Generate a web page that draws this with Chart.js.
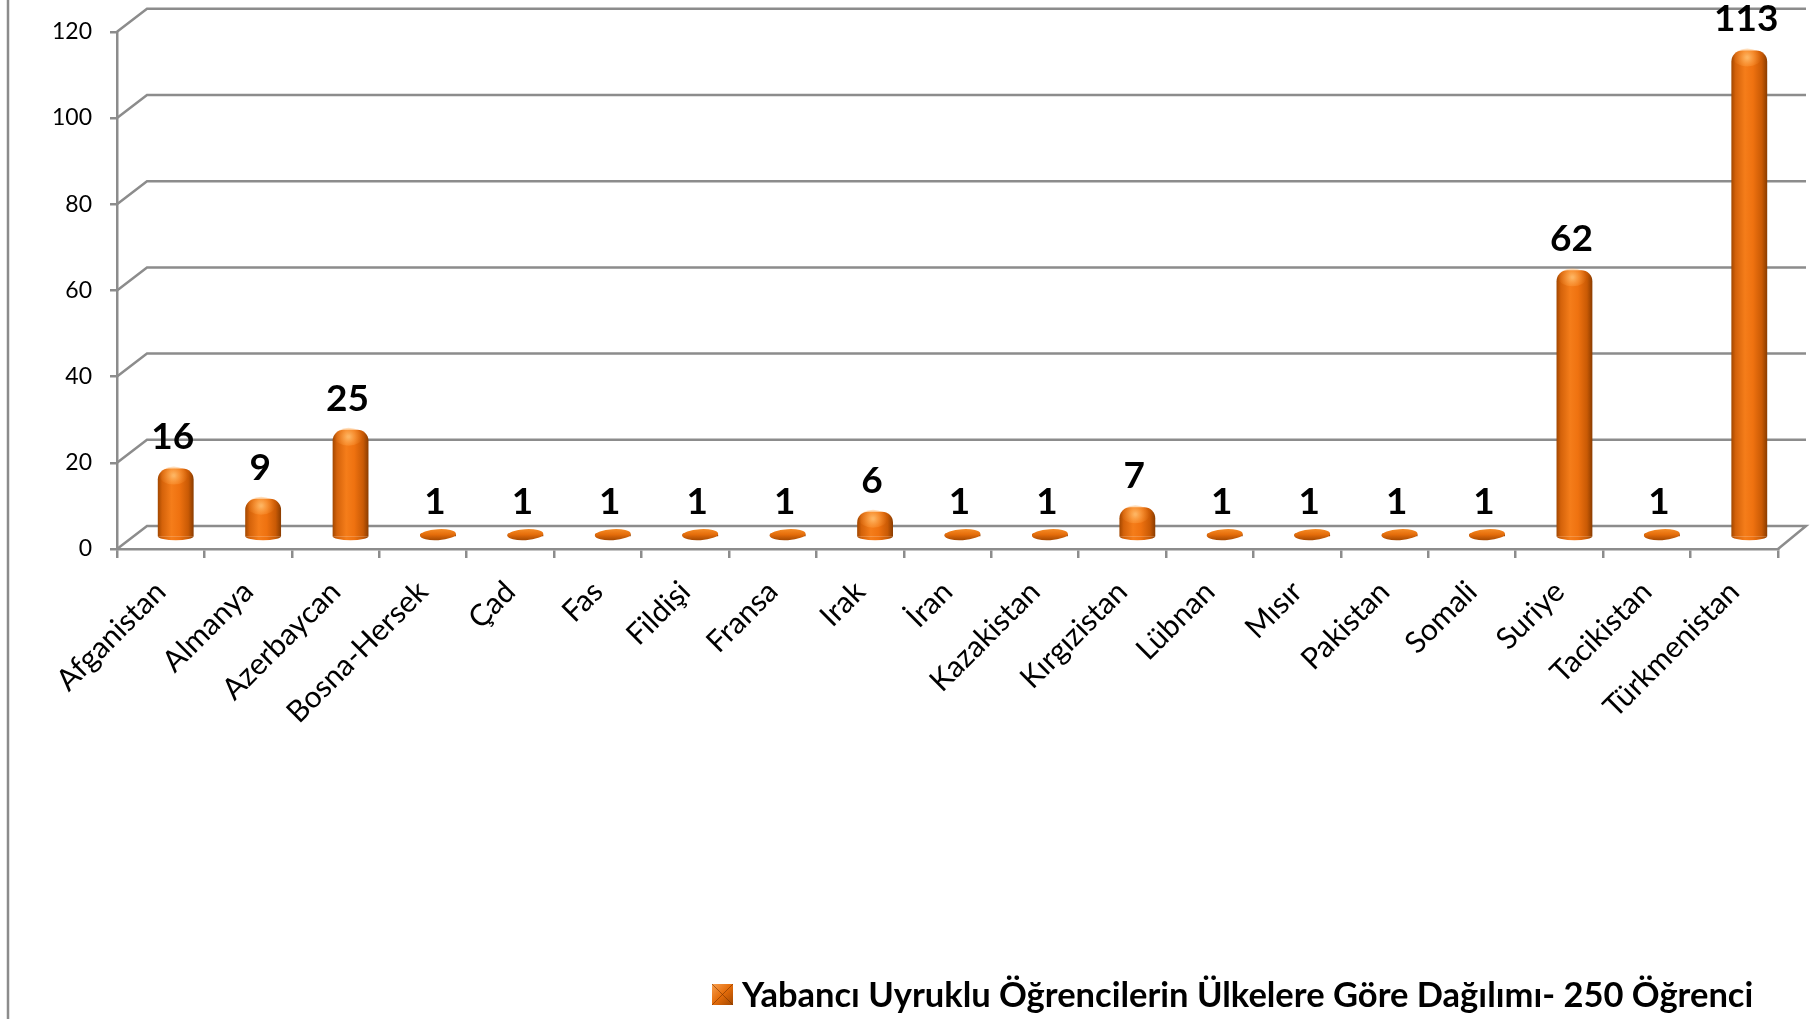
<!DOCTYPE html>
<html lang="tr">
<head>
<meta charset="utf-8">
<script src="https://cdn.jsdelivr.net/npm/chart.js@4.4.1/dist/chart.umd.min.js"></script>
<style>
  html, body { margin: 0; padding: 0; background: #fff; }
  #kutu { width: 1816px; height: 1019px; position: relative; }
</style>
</head>
<body>
<div id="kutu"><canvas id="grafik"></canvas></div>
<script>
// veriler
const ulkeler = ['Afganistan', 'Almanya', 'Azerbaycan', 'Bosna-Hersek', 'Çad', 'Fas', 'Fildişi', 'Fransa', 'Irak', 'İran',
  'Kazakistan', 'Kırgızistan', 'Lübnan', 'Mısır', 'Pakistan', 'Somali', 'Suriye', 'Tacikistan', 'Türkmenistan'];
const ogrenciSayisi = [16, 9, 25, 1, 1, 1, 1, 1, 6, 1, 1, 7, 1, 1, 1, 1, 62, 1, 113];
const yEksenDegerleri = [0, 20, 40, 60, 80, 100, 120];
const seriAdi = 'Yabancı Uyruklu Öğrencilerin Ülkelere Göre Dağılımı- 250 Öğrenci';

// 3B görünüm için derinlik
const DX = 30, DY = 23;
const BAR_ORANI = 0.41;
const GRI = '#8c8c8c';

function silindirRengi(ctx, cx, yw) {
  const g = ctx.createLinearGradient(cx - yw, 0, cx + yw, 0);
  g.addColorStop(0, '#a24700');
  g.addColorStop(0.12, '#d4620a');
  g.addColorStop(0.38, '#f57d1a');
  g.addColorStop(0.6, '#ef7210');
  g.addColorStop(0.85, '#c95a05');
  g.addColorStop(1, '#8a3c00');
  return g;
}

const duvar = {
  id: 'duvar',
  beforeDatasetsDraw(chart) {
    const { ctx, chartArea: a, scales: { y } } = chart;
    ctx.save();
    ctx.strokeStyle = GRI;
    ctx.lineWidth = 2.5;
    yEksenDegerleri.forEach(v => {
      const py = y.getPixelForValue(v);
      ctx.beginPath();
      ctx.moveTo(a.left, py);
      ctx.lineTo(a.left + DX, py - DY);
      ctx.lineTo(a.right + DX - 2, py - DY);
      if (v === 0) ctx.lineTo(a.right, py);
      ctx.stroke();
    });
    // grafik çerçevesinin sol kenarı
    ctx.beginPath();
    ctx.moveTo(8, 0);
    ctx.lineTo(8, chart.height);
    ctx.stroke();
    ctx.restore();
    // çubukları derinliğin ortasına kaydır
    ctx.save();
    ctx.translate(DX / 2, -DY / 2);
  },
  afterDatasetsDraw(chart) {
    const { ctx } = chart;
    const meta = chart.getDatasetMeta(0);
    meta.data.forEach((el, i) => {
      const { x, y, base, width } = el.getProps(['x', 'y', 'base', 'width'], true);
      const rx = width / 2;
      const h = base - y;
      if (h < 12) {
        // ince disk
        ctx.beginPath();
        ctx.ellipse(x, y + h / 2, rx, 5.5, -0.06, 0, Math.PI * 2);
        const g = ctx.createLinearGradient(0, y - 5, 0, base + 5);
        g.addColorStop(0, '#f8902a');
        g.addColorStop(0.5, '#e46c0a');
        g.addColorStop(1, '#9a4300');
        ctx.fillStyle = g;
        ctx.fill();
      } else {
        // alt yarım elips
        ctx.beginPath();
        ctx.ellipse(x, base, rx, 4, 0, 0, Math.PI);
        ctx.fillStyle = silindirRengi(ctx, x, rx);
        ctx.fill();
        // üstte parlama
        const r = ctx.createRadialGradient(x - 2, y + 7, 1, x - 2, y + 7, rx * 0.8);
        r.addColorStop(0, 'rgba(255,190,110,0.85)');
        r.addColorStop(1, 'rgba(255,150,50,0)');
        ctx.fillStyle = r;
        ctx.beginPath();
        ctx.ellipse(x - 2, y + 7, rx * 0.8, 9, 0, 0, Math.PI * 2);
        ctx.fill();
      }
      // değer etiketi
      ctx.fillStyle = '#000';
      ctx.font = 'bold 37px Lato';
      ctx.textAlign = 'center';
      ctx.textBaseline = 'middle';
      ctx.fillText(String(ogrenciSayisi[i]), x - 3, y - 31);
    });
    ctx.restore();
  }
};

const lejant = {
  id: 'lejant',
  afterDraw(chart) {
    const { ctx } = chart;
    const bx = 712, by = 984, s = 21;
    ctx.save();
    const g = ctx.createLinearGradient(bx, by, bx + s, by + s);
    g.addColorStop(0, '#f8a050');
    g.addColorStop(0.5, '#e46c0a');
    g.addColorStop(1, '#a24700');
    ctx.fillStyle = g;
    ctx.fillRect(bx, by, s, s);
    ctx.strokeStyle = 'rgba(120,50,0,0.6)';
    ctx.lineWidth = 1;
    ctx.beginPath();
    ctx.moveTo(bx, by); ctx.lineTo(bx + s, by + s);
    ctx.moveTo(bx + s, by); ctx.lineTo(bx, by + s);
    ctx.stroke();
    ctx.fillStyle = '#000';
    ctx.font = 'bold 34.5px Lato';
    ctx.textAlign = 'left';
    ctx.textBaseline = 'middle';
    ctx.fillText(seriAdi, 742, by + s / 2 + 1);
    ctx.restore();
  }
};

new Chart(document.getElementById('grafik'), {
  type: 'bar',
  data: {
    labels: ulkeler,
    datasets: [{
      label: seriAdi,
      data: ogrenciSayisi,
      barPercentage: BAR_ORANI,
      categoryPercentage: 1,
      borderSkipped: 'bottom',
      borderRadius: (c) => (ogrenciSayisi[c.dataIndex] < 3 ? 20 : { topLeft: 11, topRight: 11 }),
      backgroundColor: (c) => {
        const xs = c.chart.scales.x;
        if (c.type !== 'data' || !xs) return '#e46c0a';
        const cx = xs.getPixelForValue(c.dataIndex);
        const yw = xs.width / ulkeler.length * BAR_ORANI / 2;
        if (!isFinite(cx) || !isFinite(yw) || yw <= 0) return '#e46c0a';
        return silindirRengi(c.chart.ctx, cx, yw);
      }
    }]
  },
  options: {
    responsive: true,
    maintainAspectRatio: false,
    animation: false,
    layout: { padding: { left: 0, top: 29, right: 38, bottom: 0 } },
    plugins: {
      legend: { display: false },
      tooltip: { enabled: false }
    },
    scales: {
      x: {
        grid: { offset: true, drawOnChartArea: false, drawTicks: true, tickLength: 9, color: GRI, lineWidth: 2.5 },
        border: { color: GRI, width: 2.5 },
        ticks: {
          autoSkip: false, minRotation: 45, maxRotation: 45,
          color: '#000', font: { family: 'Lato', size: 30 }, padding: 16
        },
        afterFit(s) { s.height = 470; }
      },
      y: {
        min: 0, max: 120,
        grid: { drawOnChartArea: false, drawTicks: true, tickLength: 7, color: GRI, lineWidth: 2.5 },
        border: { color: GRI, width: 2.5 },
        ticks: {
          stepSize: 20, color: '#000', padding: 18,
          font: { family: 'Lato', size: 23 }
        },
        afterFit(s) { s.width = 117; }
      }
    }
  },
  plugins: [duvar, lejant]
});
</script>
</body>
</html>
